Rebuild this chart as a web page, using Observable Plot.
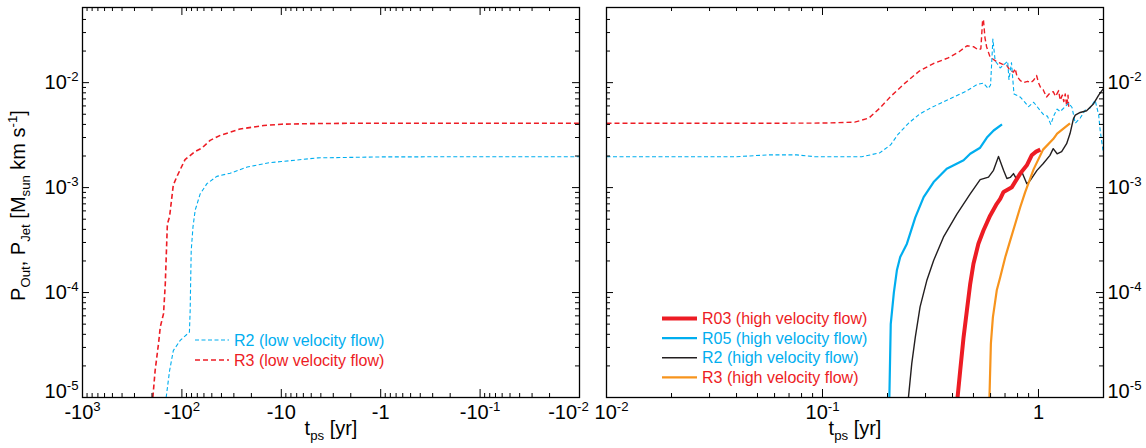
<!DOCTYPE html>
<html>
<head>
<meta charset="utf-8">
<script src="https://cdn.jsdelivr.net/npm/d3@7"></script>
<script src="https://cdn.jsdelivr.net/npm/@observablehq/plot@0.6"></script>
<style>
  body { margin: 0; background: #fff; }
  #chart { position: relative; width: 1146px; height: 448px; font-family: "Liberation Sans", Arial, sans-serif; }
  #chart svg { position: absolute; top: 0; overflow: visible; }
</style>
</head>
<body>
<div id="chart"></div>
<script>
const RED = "#ed1c24", BLUE = "#00aeef", BLACK = "#231f20", ORANGE = "#f7941d";

// ---- Left panel: before the event (t_ps < 0, yr), low velocity flow ----
const r3LowBefore = [
  [-196, 1e-5], [-186, 1.8e-5], [-171, 3.4e-5], [-165, 4.7e-5], [-153, 6.3e-5],
  [-147, 1.2e-4], [-140, 4.5e-4], [-133, 5.3e-4], [-122, 1.06e-3], [-112, 1.28e-3],
  [-93, 1.85e-3], [-74, 2.2e-3], [-63, 2.38e-3], [-52, 2.82e-3], [-41, 3.15e-3],
  [-26, 3.62e-3], [-15, 3.9e-3], [-10, 4.02e-3], [-5, 4.07e-3], [-2, 4.1e-3],
  [-0.5, 4.1e-3], [-0.1, 4.1e-3], [-0.01, 4.1e-3]
];
const r2LowBefore = [
  [-144, 1e-5], [-133, 1.8e-5], [-122, 2.8e-5], [-104, 3.5e-5], [-84, 4.2e-5],
  [-82.6, 6.7e-5], [-80.6, 2.5e-4], [-77.4, 4.2e-4], [-73.5, 6.1e-4], [-65.5, 8.7e-4],
  [-56, 1.09e-3], [-44.5, 1.28e-3], [-32.7, 1.37e-3], [-22, 1.57e-3], [-13, 1.73e-3],
  [-10, 1.77e-3], [-4.3, 1.92e-3], [-1, 1.96e-3], [-0.1, 1.97e-3], [-0.01, 1.97e-3]
];

// ---- Right panel: after the event (t_ps > 0, yr) ----
const r3LowAfter = [
  [0.01, 4.1e-3], [0.05, 4.1e-3], [0.1, 4.12e-3], [0.141, 4.2e-3], [0.164, 4.6e-3],
  [0.184, 5.7e-3], [0.207, 7.4e-3], [0.241, 9.9e-3], [0.281, 1.29e-2], [0.328, 1.53e-2],
  [0.382, 1.72e-2], [0.429, 1.97e-2], [0.467, 2.25e-2], [0.5, 2.2e-2], [0.527, 2.05e-2],
  [0.541, 2.1e-2], [0.551, 3.9e-2], [0.556, 4.0e-2], [0.565, 2.7e-2], [0.575, 2.2e-2],
  [0.597, 1.75e-2], [0.641, 1.58e-2], [0.68, 1.5e-2], [0.713, 1.46e-2], [0.74, 1.3e-2],
  [0.766, 1.26e-2], [0.78, 1.36e-2], [0.795, 1.15e-2], [0.822, 1.05e-2], [0.85, 1.0e-2],
  [0.89, 1.03e-2], [0.92, 1.0e-2], [0.948, 1.05e-2], [0.98, 1.17e-2], [1.0, 1.0e-2],
  [1.02, 9.1e-3], [1.05, 8.6e-3], [1.09, 7.3e-3], [1.12, 7.8e-3], [1.17, 8.2e-3],
  [1.2, 7.4e-3], [1.24, 8.4e-3], [1.26, 6.8e-3], [1.29, 7.6e-3], [1.31, 6.6e-3],
  [1.33, 7.8e-3], [1.35, 6.0e-3], [1.37, 7.6e-3], [1.38, 5.9e-3]
];
const r2LowAfter = [
  [0.01, 1.97e-3], [0.04, 1.97e-3], [0.056, 2.05e-3], [0.076, 2.05e-3], [0.092, 1.97e-3],
  [0.152, 1.97e-3], [0.184, 2.14e-3], [0.207, 2.56e-3], [0.223, 3.19e-3], [0.25, 4.1e-3],
  [0.281, 5.0e-3], [0.315, 5.7e-3], [0.354, 6.4e-3], [0.405, 7.3e-3], [0.463, 8.3e-3],
  [0.52, 9.6e-3], [0.556, 9.9e-3], [0.585, 8.8e-3], [0.6, 9.5e-3], [0.615, 2.6e-2],
  [0.63, 1.62e-2], [0.665, 1.38e-2], [0.72, 1.6e-2], [0.73, 1.07e-2], [0.75, 1.55e-2],
  [0.77, 7.8e-3], [0.822, 7.3e-3], [0.86, 6.6e-3], [0.9, 5.9e-3], [0.95, 6.5e-3],
  [1.02, 5.4e-3], [1.06, 4.9e-3], [1.1, 4.8e-3], [1.14, 4.0e-3], [1.18, 4.9e-3],
  [1.22, 5.6e-3], [1.26, 5.3e-3], [1.33, 5.9e-3], [1.38, 6.4e-3], [1.43, 5.8e-3],
  [1.48, 4.1e-3], [1.56, 4.6e-3], [1.65, 5.5e-3], [1.73, 5.7e-3], [1.83, 6.8e-3],
  [1.9, 4.9e-3], [1.93, 3.5e-3], [2.0, 2.1e-3]
];
const r03High = [
  [0.422, 1e-5], [0.434, 1.8e-5], [0.45, 3.76e-5], [0.466, 6.7e-5], [0.483, 1.21e-4],
  [0.5, 1.88e-4], [0.527, 2.92e-4], [0.556, 3.9e-4], [0.597, 5.4e-4], [0.641, 7.0e-4],
  [0.665, 7.8e-4], [0.689, 9.1e-4], [0.753, 1.01e-3], [0.823, 1.36e-3], [0.883, 1.63e-3],
  [0.93, 2.03e-3], [0.975, 2.2e-3], [1.02, 2.3e-3]
];
const r05High = [
  [0.204, 1e-5], [0.207, 5e-5], [0.214, 1.0e-4], [0.221, 1.63e-4], [0.229, 2.18e-4],
  [0.246, 2.92e-4], [0.269, 5.2e-4], [0.294, 8.1e-4], [0.327, 1.13e-3], [0.376, 1.51e-3],
  [0.405, 1.63e-3], [0.45, 1.82e-3], [0.483, 2.1e-3], [0.537, 2.4e-3], [0.577, 3.0e-3],
  [0.62, 3.5e-3], [0.678, 4.0e-3]
];
const r2High = [
  [0.25, 1e-5], [0.259, 2.1e-5], [0.269, 3.76e-5], [0.283, 7.3e-5], [0.304, 1.3e-4],
  [0.327, 2.02e-4], [0.363, 3.37e-4], [0.419, 5.6e-4], [0.483, 8.7e-4], [0.537, 1.19e-3],
  [0.587, 1.26e-3], [0.619, 1.46e-3], [0.653, 1.98e-3], [0.689, 1.46e-3], [0.714, 1.22e-3],
  [0.74, 1.25e-3], [0.766, 1.36e-3], [0.794, 1.19e-3], [0.838, 1.41e-3], [0.883, 1.09e-3],
  [0.916, 1.17e-3], [0.984, 1.46e-3], [1.05, 1.69e-3], [1.13, 2.03e-3], [1.17, 2.35e-3],
  [1.22, 2.1e-3], [1.28, 2.2e-3], [1.35, 2.62e-3], [1.4, 3.27e-3], [1.45, 4.5e-3],
  [1.48, 4.9e-3], [1.56, 5.2e-3], [1.67, 5.4e-3], [1.8, 6.3e-3], [1.9, 7.6e-3], [2.0, 8.8e-3]
];
const r3High = [
  [0.593, 1e-5], [0.602, 3.25e-5], [0.615, 5.8e-5], [0.641, 1.05e-4], [0.665, 1.4e-4],
  [0.702, 2.18e-4], [0.74, 3.14e-4], [0.78, 4.5e-4], [0.823, 6.5e-4], [0.867, 9.0e-4],
  [0.95, 1.5e-3], [1.05, 2.3e-3], [1.17, 2.9e-3], [1.22, 3.27e-3], [1.38, 4.0e-3], [1.4, 4.1e-3]
];

// ---- Axes ----
const yMajor = [1e-5, 1e-4, 1e-3, 1e-2];
const yLabels = ["10^{-5}", "10^{-4}", "10^{-3}", "10^{-2}"];
const leftXMajor = [-1000, -100, -10, -1, -0.1, -0.01];
const leftXLabels = ["-10^{3}", "-10^{2}", "-10", "-1", "-10^{-1}", "-10^{-2}"];
const rightXMajor = [0.01, 0.1, 1];
const rightXLabels = ["10^{-2}", "10^{-1}", "1"];
const minorSteps = [2, 3, 4, 5, 6, 7, 8, 9];
const yTitle = "P_{Out}, P_{Jet} [M_{sun} km s^{-1}]";
const xTitle = "t_{ps} [yr]";

const minorOf = (majors, lo, hi) =>
  majors.flatMap(m => minorSteps.map(k => k * m)).filter(v => Math.abs(v) > lo && Math.abs(v) < hi);
const yMinor = minorOf(yMajor, 1e-5, 0.049);
const leftXMinor = minorOf(leftXMajor, 0.01, 1000);
const rightXMinor = minorOf(rightXMajor, 0.01, 1.99);

const H = 448, MT = 7, MB = 51, FH = H - MT - MB;   // frame height 390
const FW = 497;                                       // frame width of each panel
const FONT = "Liberation Sans, Arial, Helvetica, sans-serif";
const TICK_FS = 20;

function frameTicks(xMaj, xMin) {
  const st = {stroke: "#000", strokeWidth: 1};
  return [
    Plot.tickX(xMaj, {x: d => d, insetTop: FH - 8, ...st}),
    Plot.tickX(xMaj, {x: d => d, insetBottom: FH - 8, ...st}),
    Plot.tickX(xMin, {x: d => d, insetTop: FH - 4, ...st}),
    Plot.tickX(xMin, {x: d => d, insetBottom: FH - 4, ...st}),
    Plot.tickY(yMajor, {y: d => d, insetRight: FW - 7, ...st}),
    Plot.tickY(yMajor, {y: d => d, insetLeft: FW - 7, ...st}),
    Plot.tickY(yMinor, {y: d => d, insetRight: FW - 4, ...st}),
    Plot.tickY(yMinor, {y: d => d, insetLeft: FW - 4, ...st})
  ];
}
const yFmt = d => yLabels[yMajor.indexOf(d)];
const line = (data, opts) => Plot.line(data, {x: d => d[0], y: d => d[1], clip: true,
  strokeLinejoin: "round", strokeLinecap: "butt", ...opts});

const left = Plot.plot({
  width: 593, height: H, marginLeft: 82, marginRight: 14, marginTop: MT, marginBottom: MB,
  style: {fontFamily: FONT, background: "transparent", color: "#000", overflow: "visible"},
  x: {type: "log", domain: [-1000, -0.01]},
  y: {type: "log", domain: [1e-5, 0.052]},
  marks: [
    line(r2LowBefore, {stroke: BLUE, strokeWidth: 1.1, strokeDasharray: "4,2.5"}),
    line(r3LowBefore, {stroke: RED, strokeWidth: 1.6, strokeDasharray: "5,3"}),
    ...frameTicks(leftXMajor, leftXMinor),
    Plot.frame({stroke: "#000", strokeWidth: 1.3}),
    Plot.axisY(yMajor.slice(1), {anchor: "left", tickSize: 0, tickPadding: 4, fontSize: TICK_FS, tickFormat: yFmt, label: null}),
    Plot.axisY([1e-5], {anchor: "left", tickSize: 0, tickPadding: 4, fontSize: TICK_FS, tickFormat: yFmt, dy: -6, label: null}),
    Plot.axisX(leftXMajor.slice(0, -1), {anchor: "bottom", tickSize: 0, tickPadding: 7, fontSize: TICK_FS,
      tickFormat: d => leftXLabels[leftXMajor.indexOf(d)], label: null}),
    Plot.axisX([-0.01], {anchor: "bottom", tickSize: 0, tickPadding: 7, fontSize: TICK_FS, dx: -11,
      tickFormat: d => leftXLabels[leftXMajor.indexOf(d)], label: null}),
    Plot.text([xTitle], {frameAnchor: "bottom", textAnchor: "middle", dy: 37, fontSize: 20, text: d => d}),
    Plot.text([yTitle], {frameAnchor: "left", textAnchor: "middle", rotate: -90, dx: -64, dy: 3, fontSize: 20, text: d => d})
  ]
});

const right = Plot.plot({
  width: 553, height: H, marginLeft: 13, marginRight: 43, marginTop: MT, marginBottom: MB,
  style: {fontFamily: FONT, background: "transparent", color: "#000", overflow: "visible"},
  x: {type: "log", domain: [0.01, 2]},
  y: {type: "log", domain: [1e-5, 0.052]},
  marks: [
    line(r3LowAfter, {stroke: RED, strokeWidth: 1.4, strokeDasharray: "5,3"}),
    line(r2LowAfter, {stroke: BLUE, strokeWidth: 1.1, strokeDasharray: "4,2.5"}),
    line(r2High, {stroke: BLACK, strokeWidth: 1.4}),
    line(r05High, {stroke: BLUE, strokeWidth: 2.2}),
    line(r03High, {stroke: RED, strokeWidth: 4}),
    line(r3High, {stroke: ORANGE, strokeWidth: 2.2}),
    ...frameTicks(rightXMajor, rightXMinor),
    Plot.frame({stroke: "#000", strokeWidth: 1.3}),
    Plot.axisY(yMajor.slice(1), {anchor: "right", tickSize: 0, tickPadding: 4, fontSize: TICK_FS, tickFormat: yFmt, label: null}),
    Plot.axisY([1e-5], {anchor: "right", tickSize: 0, tickPadding: 4, fontSize: TICK_FS, tickFormat: yFmt, dy: -6, label: null}),
    Plot.axisX(rightXMajor.slice(1), {anchor: "bottom", tickSize: 0, tickPadding: 7, fontSize: TICK_FS,
      tickFormat: d => rightXLabels[rightXMajor.indexOf(d)], label: null}),
    Plot.axisX([0.01], {anchor: "bottom", tickSize: 0, tickPadding: 7, fontSize: TICK_FS, dx: 5,
      tickFormat: d => rightXLabels[rightXMajor.indexOf(d)], label: null}),
    Plot.text([xTitle], {frameAnchor: "bottom", textAnchor: "middle", dy: 37, fontSize: 20, text: d => d})
  ]
});

const chart = document.getElementById("chart");
left.style.left = "0px";
right.style.left = "593px";
chart.append(left, right);

// Turn "^{...}" and "_{...}" into raised / lowered tspans.
function richText(svg) {
  svg.querySelectorAll("text").forEach(t => {
    const s = t.textContent;
    if (!/[\^_]\{/.test(s) || t.querySelector("tspan")) return;
    const fs = parseFloat(getComputedStyle(t).fontSize) || 16;
    const parts = [];
    s.replace(/([\^_])\{([^}]*)\}|([^\^_]+)/g, (m, k, inner, plain) => {
      parts.push(plain != null ? {text: plain, shift: 0, size: null}
        : k === "^" ? {text: inner, shift: -0.38 * fs, size: 0.66 * fs}
        : {text: inner, shift: 0.26 * fs, size: 0.66 * fs});
    });
    t.textContent = "";
    let cur = 0;
    parts.forEach((p, i) => {
      const ts = document.createElementNS("http://www.w3.org/2000/svg", "tspan");
      if (i > 0 || p.shift !== 0) ts.setAttribute("dy", (p.shift - cur).toFixed(2));
      if (p.size) ts.setAttribute("font-size", p.size.toFixed(1));
      ts.textContent = p.text;
      t.appendChild(ts);
      cur = p.shift;
    });
  });
}
richText(left);
richText(right);

// Legends
function addLegend(svg, items, x0, x1, y0, step) {
  const g = d3.select(svg).append("g").attr("font-size", 16).attr("font-family", FONT)
    .attr("text-anchor", "start");
  items.forEach((it, i) => {
    const y = y0 + i * step;
    g.append("line").attr("x1", x0).attr("x2", x1).attr("y1", y).attr("y2", y)
      .attr("stroke", it.stroke).attr("stroke-width", it.width)
      .attr("stroke-dasharray", it.dash || null);
    g.append("text").attr("x", x1 + 5).attr("y", y).attr("dy", "0.35em")
      .attr("text-anchor", "start").attr("fill", it.color).text(it.label);
  });
}
addLegend(left, [
  {label: "R2 (low velocity flow)", stroke: BLUE, width: 1.1, dash: "4,2.5", color: BLUE},
  {label: "R3 (low velocity flow)", stroke: RED, width: 1.6, dash: "5,3", color: RED}
], 195, 229, 340, 20);
addLegend(right, [
  {label: "R03 (high velocity flow)", stroke: RED, width: 4, color: RED},
  {label: "R05 (high velocity flow)", stroke: BLUE, width: 2.2, color: BLUE},
  {label: "R2 (high velocity flow)", stroke: BLACK, width: 1.4, color: BLUE},
  {label: "R3 (high velocity flow)", stroke: ORANGE, width: 2.2, color: RED}
], 69, 104, 318.5, 19.6);
</script>
</body>
</html>
